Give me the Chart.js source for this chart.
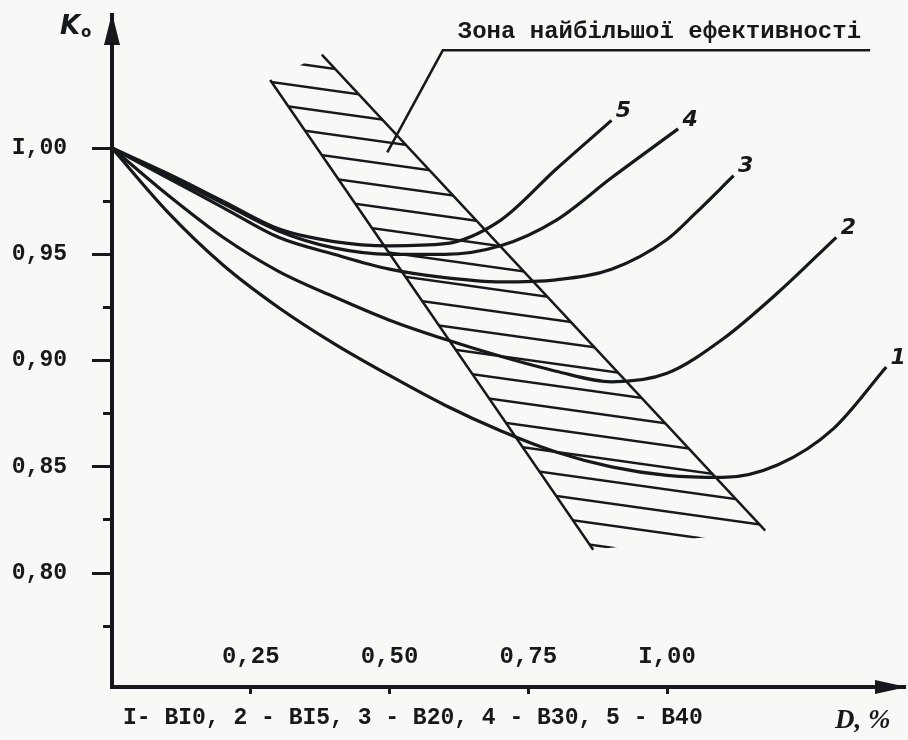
<!DOCTYPE html>
<html>
<head>
<meta charset="utf-8">
<script src="https://cdn.jsdelivr.net/npm/chart.js@4.4.1/dist/chart.umd.min.js"></script>
<style>
  html, body { margin: 0; padding: 0; background: #f8f8f6; }
  #wrap { width: 908px; height: 740px; }
</style>
</head>
<body>
<div id="wrap"><canvas id="rel"></canvas></div>
<script>
// K0 against D, % for concrete classes 1..5
var d1 = [0, 0.1, 0.2, 0.3, 0.4, 0.5, 0.6, 0.7, 0.8, 0.9, 1.0, 1.1, 1.2, 1.3, 1.395];
var k1 = [1.000, 0.970, 0.945, 0.925, 0.908, 0.893, 0.879, 0.867, 0.857, 0.850, 0.846, 0.845, 0.851, 0.868, 0.897];
var d2 = [0, 0.1, 0.2, 0.3, 0.4, 0.5, 0.6, 0.7, 0.8, 0.9, 1.0, 1.1, 1.2, 1.305];
var k2 = [1.000, 0.978, 0.958, 0.942, 0.930, 0.919, 0.910, 0.902, 0.895, 0.890, 0.894, 0.910, 0.932, 0.958];
var d3 = [0, 0.1, 0.2, 0.3, 0.4, 0.5, 0.6, 0.7, 0.8, 0.9, 1.0, 1.05, 1.12];
var k3 = [1.000, 0.986, 0.972, 0.958, 0.950, 0.943, 0.939, 0.937, 0.938, 0.943, 0.957, 0.969, 0.987];
var d4 = [0, 0.1, 0.2, 0.3, 0.4, 0.5, 0.6, 0.7, 0.8, 0.9, 1.02];
var k4 = [1.000, 0.987, 0.974, 0.961, 0.953, 0.950, 0.950, 0.954, 0.966, 0.986, 1.009];
var d5 = [0, 0.1, 0.2, 0.3, 0.4, 0.5, 0.6, 0.7, 0.8, 0.9];
var k5 = [1.000, 0.988, 0.975, 0.962, 0.956, 0.954, 0.955, 0.966, 0.990, 1.013];
var curveNames = ["1", "2", "3", "4", "5"];

// zone of highest efficiency (two boundary lines) and its leader line
var zoneLeftD = [0.285, 0.867];
var zoneLeftK = [1.032, 0.811];
var zoneRightD = [0.378, 1.177];
var zoneRightK = [1.044, 0.820];
var leaderD = [0.496, 0.596, 1.366];
var leaderK = [0.998, 1.046, 1.046];
var zoneLabel = "Зона найбільшої ефективності";

var xTicks = [0.25, 0.50, 0.75, 1.00];
var xTickLabels = ["0,25", "0,50", "0,75", "I,00"];
var yTicks = [0.80, 0.85, 0.90, 0.95, 1.00];
var yTickLabels = ["0,80", "0,85", "0,90", "0,95", "I,00"];
var yMinorTicks = [0.775, 0.825, 0.875, 0.925, 0.975];
var legendText = "I- ВI0, 2 - ВI5, 3 - В20, 4 - В30, 5 - В40";
var xTitle = "D, %";
var yTitle = "K";
var ySub = "o";

var ink = "#16191b";
var mono = "'Liberation Mono', 'DejaVu Sans Mono', monospace";

function pts(xs, ys) {
  return xs.map(function (x, i) { return { x: x, y: ys[i] }; });
}

function hatch() {
  var c = document.createElement("canvas");
  c.width = 157; c.height = 22;
  var g = c.getContext("2d");
  g.strokeStyle = ink;
  g.lineWidth = 2.4;
  [-22, 0, 22].forEach(function (o) {
    g.beginPath(); g.moveTo(0, o); g.lineTo(157, o + 22); g.stroke();
  });
  return g.createPattern(c, "repeat");
}

function curve(name, xs, ys) {
  return {
    label: name, data: pts(xs, ys), showLine: true, fill: false,
    borderColor: ink, borderWidth: 3.2, pointRadius: 0,
    cubicInterpolationMode: "monotone"
  };
}

function plain(xs, ys, w) {
  return {
    label: "", data: pts(xs, ys), showLine: true, fill: false,
    borderColor: ink, borderWidth: w, pointRadius: 0, tension: 0
  };
}

var zoneShape = pts(
  [zoneLeftD[0], zoneRightD[0], zoneRightD[1], zoneLeftD[1]],
  [zoneLeftK[0], zoneRightK[0], zoneRightK[1], zoneLeftK[1]]
);

var decor = {
  id: "decor",
  afterDraw: function (chart) {
    var ctx = chart.ctx, a = chart.chartArea, x = chart.scales.x, y = chart.scales.y;
    ctx.save();
    ctx.fillStyle = ink;
    // arrow heads
    ctx.beginPath();
    ctx.moveTo(a.left, a.top - 2); ctx.lineTo(a.left - 8, a.top + 30); ctx.lineTo(a.left + 8, a.top + 30);
    ctx.closePath(); ctx.fill();
    ctx.beginPath();
    ctx.moveTo(a.right + 2, a.bottom); ctx.lineTo(a.right - 30, a.bottom - 7); ctx.lineTo(a.right - 30, a.bottom + 7);
    ctx.closePath(); ctx.fill();
    // curve numbers
    ctx.font = "bold italic 22px 'DejaVu Sans'";
    ctx.textAlign = "center"; ctx.textBaseline = "middle";
    chart.data.datasets.forEach(function (ds) {
      if (curveNames.indexOf(ds.label) < 0) return;
      var p = ds.data[ds.data.length - 1];
      ctx.fillText(ds.label, x.getPixelForValue(p.x) + 12, y.getPixelForValue(p.y) - 9);
    });
    // zone label on the leader
    ctx.font = "bold 24px " + mono;
    ctx.textAlign = "left"; ctx.textBaseline = "alphabetic";
    ctx.fillText(zoneLabel, x.getPixelForValue(leaderD[1]) + 15, y.getPixelForValue(leaderK[1]) - 12);
    // axis titles and legend line
    ctx.font = "bold italic 26px 'DejaVu Sans'";
    ctx.fillText(yTitle, a.left - 52, a.top + 19);
    ctx.font = "bold 15px 'DejaVu Sans'";
    ctx.fillText(ySub, a.left - 31, a.top + 22);
    ctx.font = "bold italic 27px 'Liberation Serif'";
    ctx.fillText(xTitle, a.right - 70, a.bottom + 41);
    ctx.font = "bold 23px " + mono;
    ctx.fillText(legendText, a.left + 11, a.bottom + 37);
    ctx.restore();
  }
};

var obj = document.getElementById("rel");
var rel = new Chart(obj, {
  type: "scatter",
  data: {
    datasets: [
      curve(curveNames[0], d1, k1),
      curve(curveNames[1], d2, k2),
      curve(curveNames[2], d3, k3),
      curve(curveNames[3], d4, k4),
      curve(curveNames[4], d5, k5),
      plain(zoneLeftD, zoneLeftK, 2.5),
      plain(zoneRightD, zoneRightK, 2.5),
      plain(leaderD, leaderK, 2.5),
      {
        label: "", data: zoneShape, showLine: true, fill: "shape",
        backgroundColor: hatch(), borderColor: "rgba(0,0,0,0)", borderWidth: 0,
        pointRadius: 0, tension: 0
      }
    ]
  },
  options: {
    responsive: true,
    maintainAspectRatio: false,
    animation: false,
    layout: { padding: { left: 0, top: 15, right: 3, bottom: 0 } },
    plugins: { legend: { display: false }, tooltip: { enabled: false } },
    scales: {
      x: {
        type: "linear", position: "bottom", min: 0, max: 1.4288,
        afterBuildTicks: function (s) { s.ticks = xTicks.map(function (v) { return { value: v }; }); },
        afterFit: function (s) { s.height = 53; s.paddingLeft = 0; s.paddingRight = 0; },
        ticks: {
          mirror: true, padding: 16, color: ink, maxRotation: 0, autoSkip: false,
          font: { family: mono, size: 24, weight: "bold" },
          callback: function (v, i) { return xTickLabels[i]; }
        },
        grid: { drawOnChartArea: false, drawTicks: true, tickLength: 7, tickWidth: 3, color: ink },
        border: { display: true, width: 4, color: ink }
      },
      y: {
        type: "linear", position: "left", min: 0.7464, max: 1.0626,
        afterBuildTicks: function (s) { s.ticks = yTicks.map(function (v) { return { value: v }; }); },
        afterFit: function (s) { s.width = 112; s.paddingTop = 0; s.paddingBottom = 0; },
        ticks: {
          padding: 25, color: ink,
          font: { family: mono, size: 23, weight: "bold" },
          callback: function (v, i) { return yTickLabels[i]; }
        },
        grid: { drawOnChartArea: false, drawTicks: true, tickLength: 20, tickWidth: 3, color: ink },
        border: { display: true, width: 4, color: ink }
      },
      yMinor: {
        axis: "y", type: "linear", position: { x: 0 }, min: 0.7464, max: 1.0626,
        afterBuildTicks: function (s) { s.ticks = yMinorTicks.map(function (v) { return { value: v }; }); },
        afterFit: function (s) { s.paddingTop = 0; s.paddingBottom = 0; },
        ticks: { display: false },
        grid: { drawOnChartArea: false, drawTicks: true, tickLength: 9, tickWidth: 3, color: ink },
        border: { display: false }
      }
    }
  },
  plugins: [decor]
});
</script>
</body>
</html>
